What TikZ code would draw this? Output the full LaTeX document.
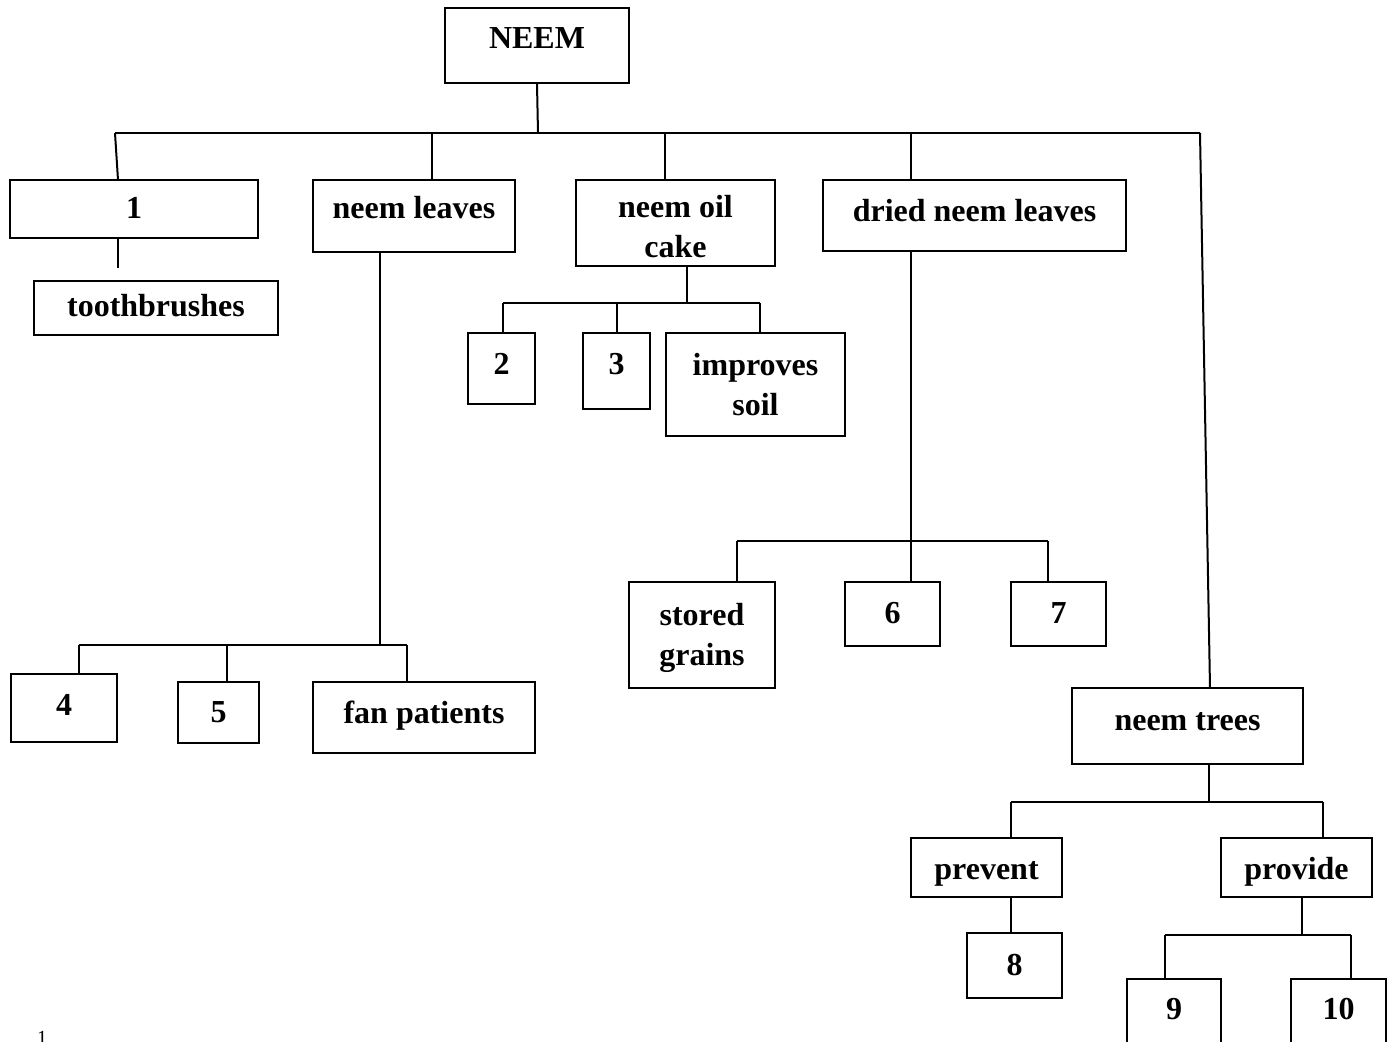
\documentclass[tikz,border=0pt]{standalone}
\usepackage{fontspec}
\setmainfont{Liberation Serif}
\usepackage{tikz}
\usetikzlibrary{calc,positioning}

\tikzset{
  box/.style={draw,line width=1pt,inner sep=0pt,align=center,font=\fontsize{16}{20}\selectfont\bfseries},
  boxsize/.style 2 args={minimum width=#1,minimum height=#2},
  lift/.style={text height=11pt,text depth=#1},
  lift/.default=3.5pt,
  sink/.style={text height=#1,text depth=3.5pt},
  wire/.style={line width=1pt}
}

\begin{document}
\begin{tikzpicture}[x=0.5pt,y=-0.5pt]
\useasboundingbox (0,0) rectangle (1396,1042);
\clip (0,0) rectangle (1396,1042);

% boxes
\node[box,lift=8pt,boxsize={92pt}{37.5pt}] (neem) at (537,45.5) {NEEM};
\node[box,lift=1pt,boxsize={124pt}{29pt}] (one) at (134,209) {1};
\node[box,lift=2.5pt,boxsize={122pt}{27pt}] (brush) at (156,308) {toothbrushes};
\node[box,lift=8.5pt,boxsize={101pt}{36pt}] (leaves) at (414,216) {neem leaves};
\node[box,boxsize={99.5pt}{43pt}] (cake) at (675.5,223) {\rule{0pt}{15pt}neem oil\\cake};
\node[box,lift=5pt,boxsize={151.5pt}{35.5pt}] (dried) at (974.5,215.5) {dried neem leaves};
\node[box,lift=5pt,boxsize={33.5pt}{35.5pt}] (two) at (501.5,368.5) {2};
\node[box,lift=7.5pt,boxsize={33.5pt}{38pt}] (three) at (616.5,371) {3};
\node[box,boxsize={89.5pt}{51.5pt}] (soil) at (755.5,384.5) {improves\\soil};
\node[box,boxsize={73pt}{53pt}] (grains) at (702,635) {\rule{0pt}{14pt}stored\\grains};
\node[box,lift=2pt,boxsize={47.5pt}{32pt}] (six) at (892.5,614) {6};
\node[box,lift=2pt,boxsize={47.5pt}{32pt}] (seven) at (1058.5,614) {7};
\node[box,lift=3.5pt,boxsize={53pt}{34pt}] (four) at (64,708) {4};
\node[box,lift=1.5pt,boxsize={40.5pt}{30.5pt}] (five) at (218.5,712.5) {5};
\node[box,lift=5pt,boxsize={111pt}{35.5pt}] (fan) at (424,717.5) {fan patients};
\node[box,lift=6.5pt,boxsize={115.5pt}{38pt}] (trees) at (1187.5,726) {neem trees};
\node[box,sink=15pt,boxsize={75.5pt}{29.5pt}] (prevent) at (986.5,867.5) {prevent};
\node[box,lift=1pt,boxsize={47.5pt}{32.5pt}] (eight) at (1014.5,965.5) {8};
\node[box,sink=15pt,boxsize={75.5pt}{29.5pt}] (provide) at (1296.5,867.5) {provide};
\node[box,lift=5.5pt,boxsize={47pt}{35pt}] (nine) at (1174,1014) {9};
\node[box,lift=5.5pt,boxsize={47.5pt}{35pt}] (ten) at (1338.5,1014) {10};
\node[font=\fontsize{10}{11}\selectfont,anchor=north,inner sep=0pt] (pagenum) at (42,1031) {1};

% top level
\coordinate (hub) at (538,133);
\coordinate (barL) at (115,133);
\coordinate (barB) at (432,133);
\coordinate (barC) at (665,133);
\coordinate (barD) at (911,133);
\coordinate (barR) at (1200,133);
\coordinate (onein) at (118,180);
\coordinate (treesin) at (1210,688);
\draw[wire] (neem.south) -- (hub);
\draw[wire] (barL) -- (barR);
\draw[wire] (barL) -- (onein);
\draw[wire] (barB) -- (barB |- leaves.north);
\draw[wire] (barC) -- (barC |- cake.north);
\draw[wire] (barD) -- (barD |- dried.north);
\draw[wire] (barR) -- (treesin);

% 1
\coordinate (brushin) at (118,268);
\draw[wire] (one.south -| brushin) -- (brushin);

% neem leaves
\coordinate (lvhub) at (380,645);
\coordinate (lvL) at (79,645);
\coordinate (lvM) at (227,645);
\coordinate (lvR) at (407,645);
\draw[wire] (leaves.south -| lvhub) -- (lvhub);
\draw[wire] (lvL) -- (lvR);
\draw[wire] (lvL) -- (lvL |- four.north);
\draw[wire] (lvM) -- (lvM |- five.north);
\draw[wire] (lvR) -- (lvR |- fan.north);

% neem oil cake
\coordinate (cakehub) at (687,303);
\coordinate (cakeL) at (503,303);
\coordinate (cakeM) at (617,303);
\coordinate (cakeR) at (760,303);
\draw[wire] (cake.south -| cakehub) -- (cakehub);
\draw[wire] (cakeL) -- (cakeR);
\draw[wire] (cakeL) -- (cakeL |- two.north);
\draw[wire] (cakeM) -- (cakeM |- three.north);
\draw[wire] (cakeR) -- (cakeR |- soil.north);

% dried neem leaves
\coordinate (drhub) at (911,541);
\coordinate (drL) at (737,541);
\coordinate (drR) at (1048,541);
\draw[wire] (dried.south -| drhub) -- (drhub |- six.north);
\draw[wire] (drL) -- (drR);
\draw[wire] (drL) -- (drL |- grains.north);
\draw[wire] (drR) -- (drR |- seven.north);

% neem trees
\coordinate (trhub) at (1209,802);
\coordinate (trL) at (1011,802);
\coordinate (trR) at (1323,802);
\draw[wire] (trees.south -| trhub) -- (trhub);
\draw[wire] (trL) -- (trR);
\draw[wire] (trL) -- (trL |- prevent.north);
\draw[wire] (trR) -- (trR |- provide.north);
\draw[wire] (prevent.south -| trL) -- (eight.north -| trL);

% provide
\coordinate (pvhub) at (1302,935);
\coordinate (pvL) at (1165,935);
\coordinate (pvR) at (1351,935);
\draw[wire] (provide.south -| pvhub) -- (pvhub);
\draw[wire] (pvL) -- (pvR);
\draw[wire] (pvL) -- (pvL |- nine.north);
\draw[wire] (pvR) -- (pvR |- ten.north);
\end{tikzpicture}
\end{document}
